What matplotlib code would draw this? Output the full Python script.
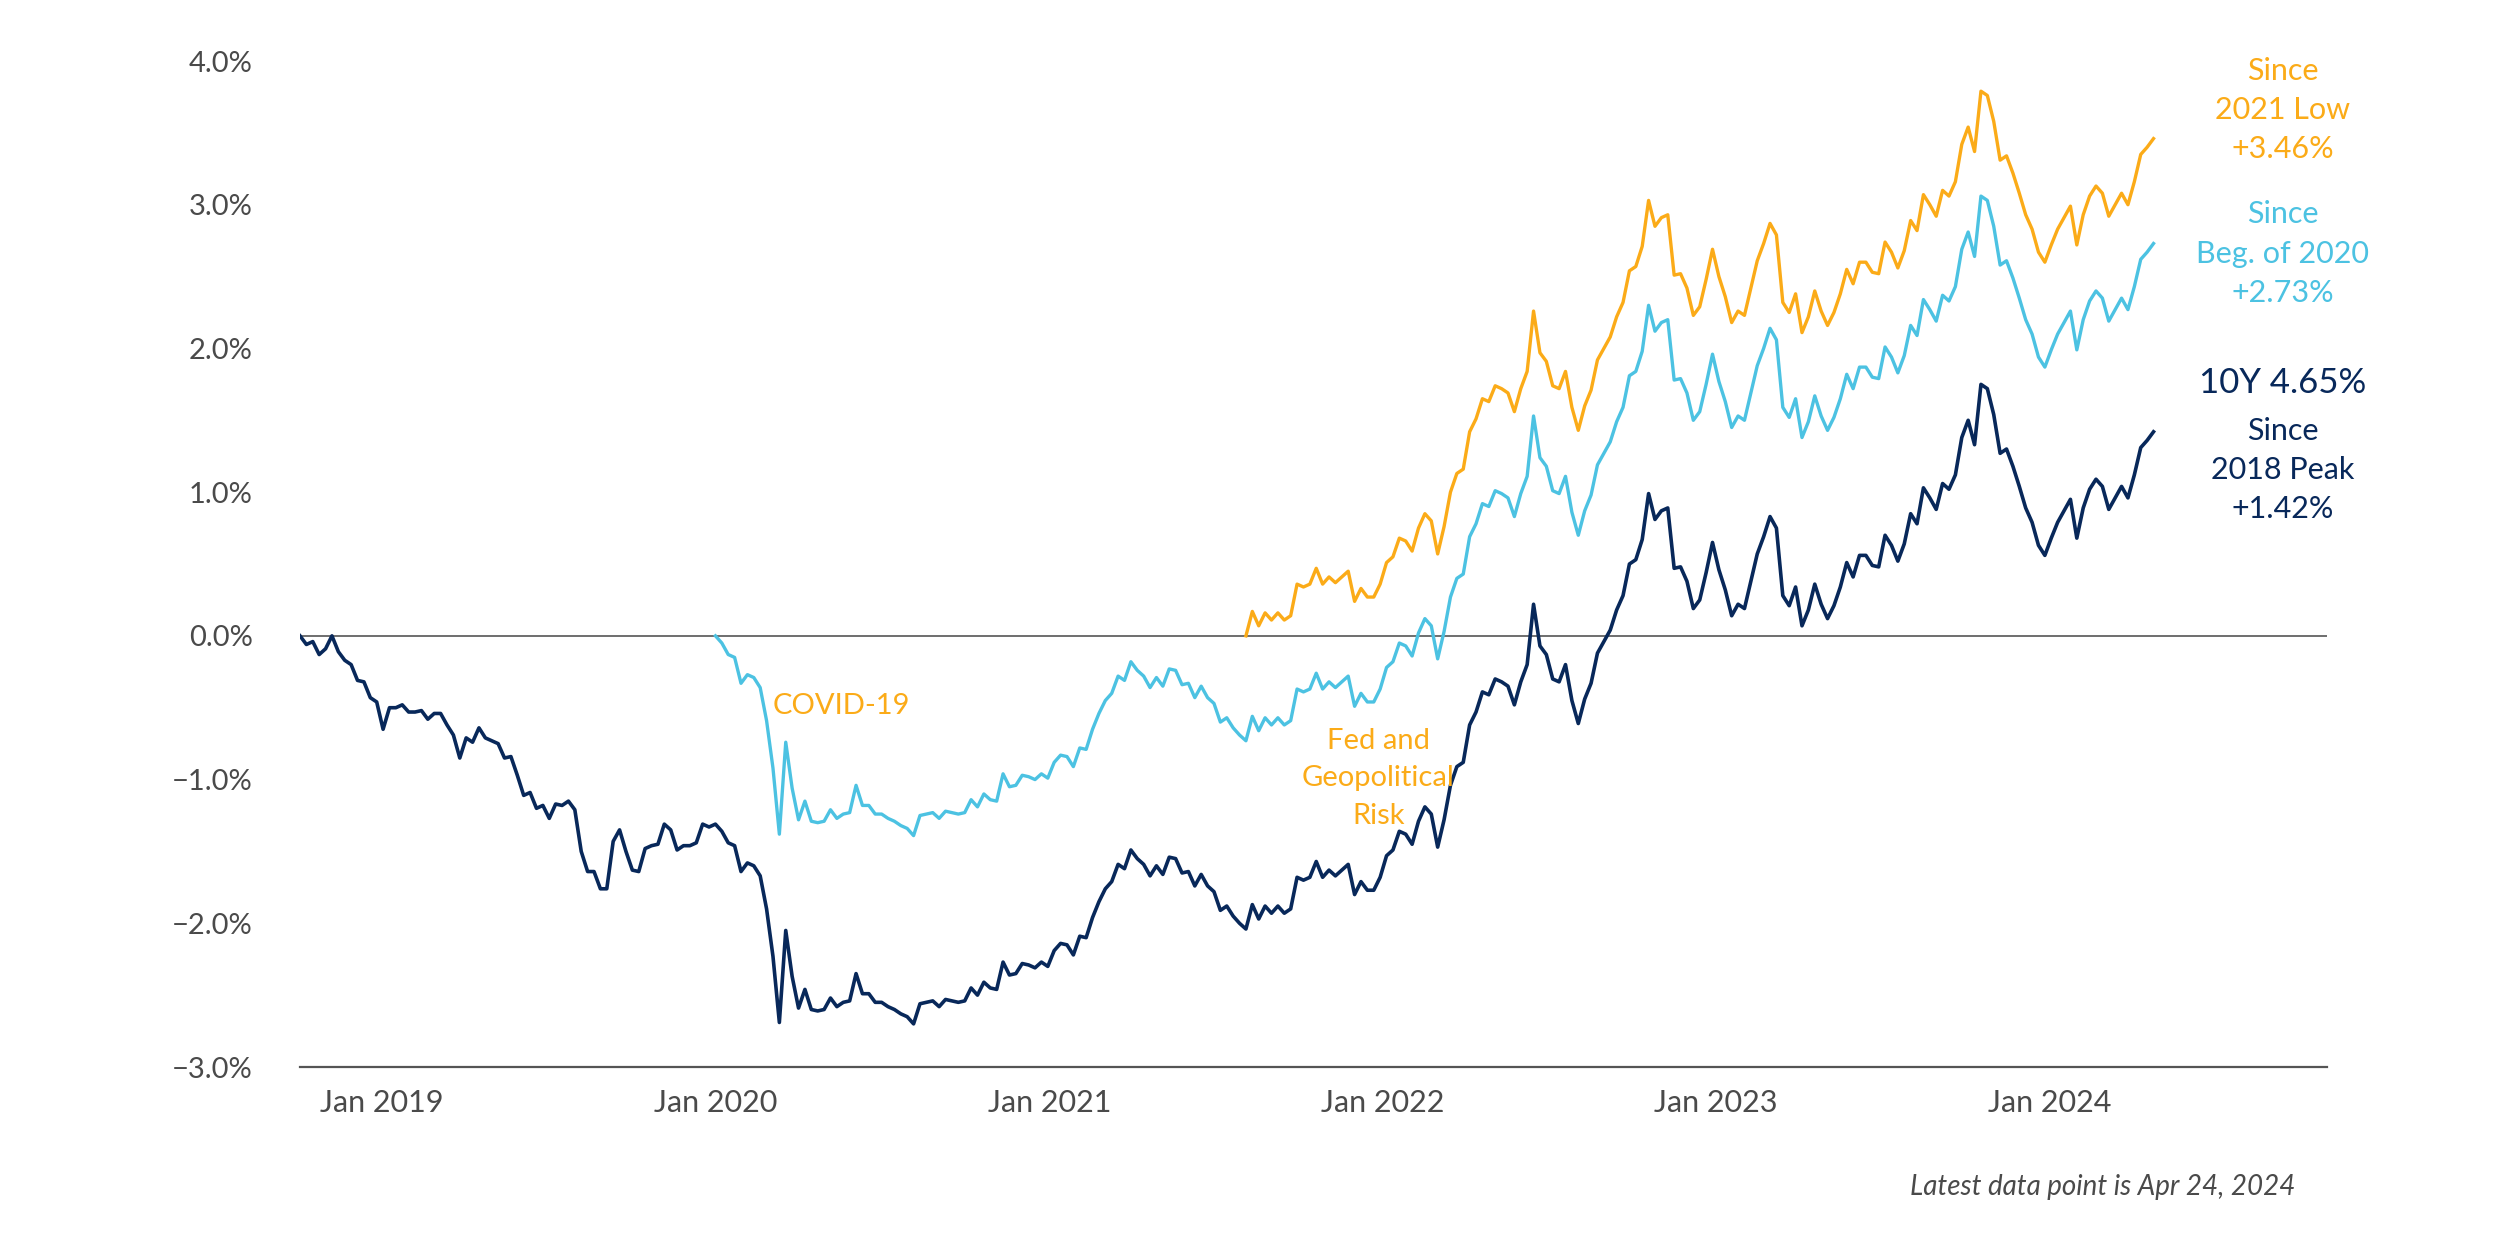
#!/usr/bin/env python3

"""
US 10Y Treasury yield: change since the 2018 peak, since the start of 2020
and since the 2021 low.
"""

import matplotlib
matplotlib.use("Agg")
import matplotlib.pyplot as plt
import numpy as np
import pandas as pd


# weekly (Wednesday) 10Y yield readings, %
yld_2018 = [3.23, 3.17, 3.19, 3.10, 3.14, 3.23, 3.12, 3.06, 3.03, 2.92, 2.91, 2.80, 2.77]
yld_2019 = [2.58, 2.73, 2.73, 2.75, 2.70,
            2.70, 2.71, 2.65, 2.69,
            2.69, 2.61, 2.54, 2.38,
            2.52, 2.49, 2.59, 2.52,
            2.50, 2.48, 2.38, 2.39, 2.26,
            2.12, 2.14, 2.03, 2.05,
            1.96, 2.06, 2.05, 2.08, 2.02,
            1.73, 1.59, 1.59, 1.47,
            1.47, 1.80, 1.88, 1.73,
            1.60, 1.59, 1.75, 1.77, 1.78,
            1.92, 1.88, 1.74, 1.77,
            1.77, 1.79, 1.92, 1.90]
yld_2020 = [1.92, 1.87, 1.79, 1.77, 1.59,
            1.65, 1.63, 1.56, 1.33,
            1.00, 0.54, 1.18, 0.86,
            0.64, 0.77, 0.63, 0.62, 0.63,
            0.71, 0.65, 0.68, 0.69,
            0.88, 0.74, 0.74, 0.68,
            0.68, 0.65, 0.63, 0.60, 0.58,
            0.53, 0.67, 0.68, 0.69,
            0.65, 0.70, 0.69, 0.68, 0.69,
            0.78, 0.73, 0.82, 0.78,
            0.77, 0.96, 0.87, 0.88,
            0.95, 0.94, 0.92, 0.96, 0.93]
yld_2021 = [1.04, 1.09, 1.08, 1.01,
            1.14, 1.13, 1.27, 1.38,
            1.47, 1.52, 1.64, 1.61, 1.74,
            1.68, 1.64, 1.56, 1.63,
            1.57, 1.69, 1.68, 1.58,
            1.59, 1.49, 1.57, 1.49, 1.45,
            1.32, 1.35, 1.28, 1.23,
            1.19, 1.36, 1.26, 1.35,
            1.30, 1.35, 1.30, 1.33, 1.55,
            1.53, 1.55, 1.66, 1.55,
            1.60, 1.56, 1.60, 1.64,
            1.43, 1.52, 1.46, 1.46, 1.55]
yld_2022 = [1.70, 1.74, 1.87, 1.85,
            1.78, 1.94, 2.04, 1.99,
            1.76, 1.95, 2.19, 2.32, 2.35,
            2.61, 2.70, 2.84, 2.82,
            2.93, 2.91, 2.88, 2.75,
            2.91, 3.03, 3.45, 3.16, 3.10,
            2.93, 2.91, 3.03, 2.78,
            2.62, 2.79, 2.90, 3.11, 3.19,
            3.27, 3.41, 3.51, 3.73,
            3.76, 3.90, 4.22, 4.04,
            4.10, 4.12, 3.70, 3.71, 3.61,
            3.42, 3.48, 3.67, 3.88]
yld_2023 = [3.69, 3.55, 3.37, 3.45,
            3.42, 3.61, 3.80, 3.92,
            4.06, 3.98, 3.51, 3.44, 3.57,
            3.30, 3.41, 3.59, 3.45,
            3.35, 3.44, 3.57, 3.74, 3.64,
            3.79, 3.79, 3.72, 3.71,
            3.93, 3.86, 3.75, 3.87,
            4.08, 4.01, 4.26, 4.19, 4.11,
            4.29, 4.25, 4.35, 4.61,
            4.73, 4.56, 4.98, 4.95,
            4.77, 4.50, 4.53, 4.41, 4.27,
            4.12, 4.02, 3.86, 3.79]
yld_2024 = [3.91, 4.02, 4.10, 4.18, 3.91,
            4.12, 4.25, 4.32, 4.27,
            4.11, 4.19, 4.27, 4.19,
            4.35, 4.54, 4.59, 4.65]

# reference levels the three lines are measured from
peak_2018 = 3.23
beg_2020 = 1.92
low_2021 = 1.19

start_2018 = "2018-10-03"
start_2020 = "2020-01-01"
start_2021 = "2021-08-04"
end_date = "2024-04-24"

year_ticks = ["2019", "2020", "2021", "2022", "2023", "2024"]
y_ticks = [-3, -2, -1, 0, 1, 2, 3, 4]

NAVY = "#08285a"
BLUE = "#4cc2e2"
ORANGE = "#fbab18"
GREY = "#4a4a4a"


def main():
    plt.rcParams["font.family"] = ["Lato", "DejaVu Sans"]

    dates = pd.date_range(start_2018, end_date, freq="W-WED")
    yld = pd.Series(np.concatenate([yld_2018, yld_2019, yld_2020, yld_2021,
                                    yld_2022, yld_2023, yld_2024]), index=dates)

    since_peak = yld - peak_2018
    since_2020 = yld[start_2020:] - beg_2020
    since_low = yld[start_2021:] - low_2021

    fig = plt.figure(figsize=(25, 12.5), dpi=100)
    ax = fig.add_axes([0.12, 0.1464, 0.8108, 0.8048])

    ax.plot(since_low.index, since_low.values, color=ORANGE, lw=2.4)
    ax.plot(since_2020.index, since_2020.values, color=BLUE, lw=2.4)
    ax.plot(since_peak.index, since_peak.values, color=NAVY, lw=2.6)

    ax.axhline(0, color="#555555", lw=1.2, zorder=0)

    ax.set_xlim(pd.Timestamp(start_2018), pd.Timestamp("2024-10-31"))
    ax.set_ylim(-3, 4)

    for side in ["left", "right", "top"]:
        ax.spines[side].set_visible(False)
    ax.spines["bottom"].set_color("#555555")
    ax.spines["bottom"].set_linewidth(1.6)

    ax.set_yticks(y_ticks)
    ax.set_yticklabels([f"{v:.1f}%".replace("-", "\u2212") for v in y_ticks])
    ax.set_xticks([pd.Timestamp(f"{y}-01-01") for y in year_ticks])
    ax.set_xticklabels([f"Jan {y}" for y in year_ticks])
    ax.tick_params(axis="y", length=0, pad=34, labelsize=21, labelcolor=GREY)
    ax.tick_params(axis="x", length=0, pad=16, labelsize=22, labelcolor=GREY)

    # event notes
    ax.text(pd.Timestamp("2020-03-04"), -0.49, "COVID-19", color=ORANGE,
            fontsize=21, va="center", ha="left")
    ax.text(pd.Timestamp("2021-12-27"), -0.99, "Fed and\nGeopolitical\nRisk",
            color=ORANGE, fontsize=21, va="center", ha="center", linespacing=1.55)

    # end labels
    fig.text(0.913, 0.912, "Since\n2021 Low\n+3.46%", color=ORANGE,
             fontsize=22, ha="center", va="center", linespacing=1.5)
    fig.text(0.913, 0.797, "Since\nBeg. of 2020\n+2.73%", color=BLUE,
             fontsize=22, ha="center", va="center", linespacing=1.5)
    fig.text(0.913, 0.694, "10Y 4.65%", color=NAVY,
             fontsize=25, ha="center", va="center")
    fig.text(0.913, 0.624, "Since\n2018 Peak\n+1.42%", color=NAVY,
             fontsize=22, ha="center", va="center", linespacing=1.5)

    fig.text(0.918, 0.05, "Latest data point is Apr 24, 2024", color=GREY,
             fontsize=20, style="italic", ha="right", va="center")

    fig.savefig("out.png", dpi=100, facecolor="white")


if __name__ == "__main__":
    main()
